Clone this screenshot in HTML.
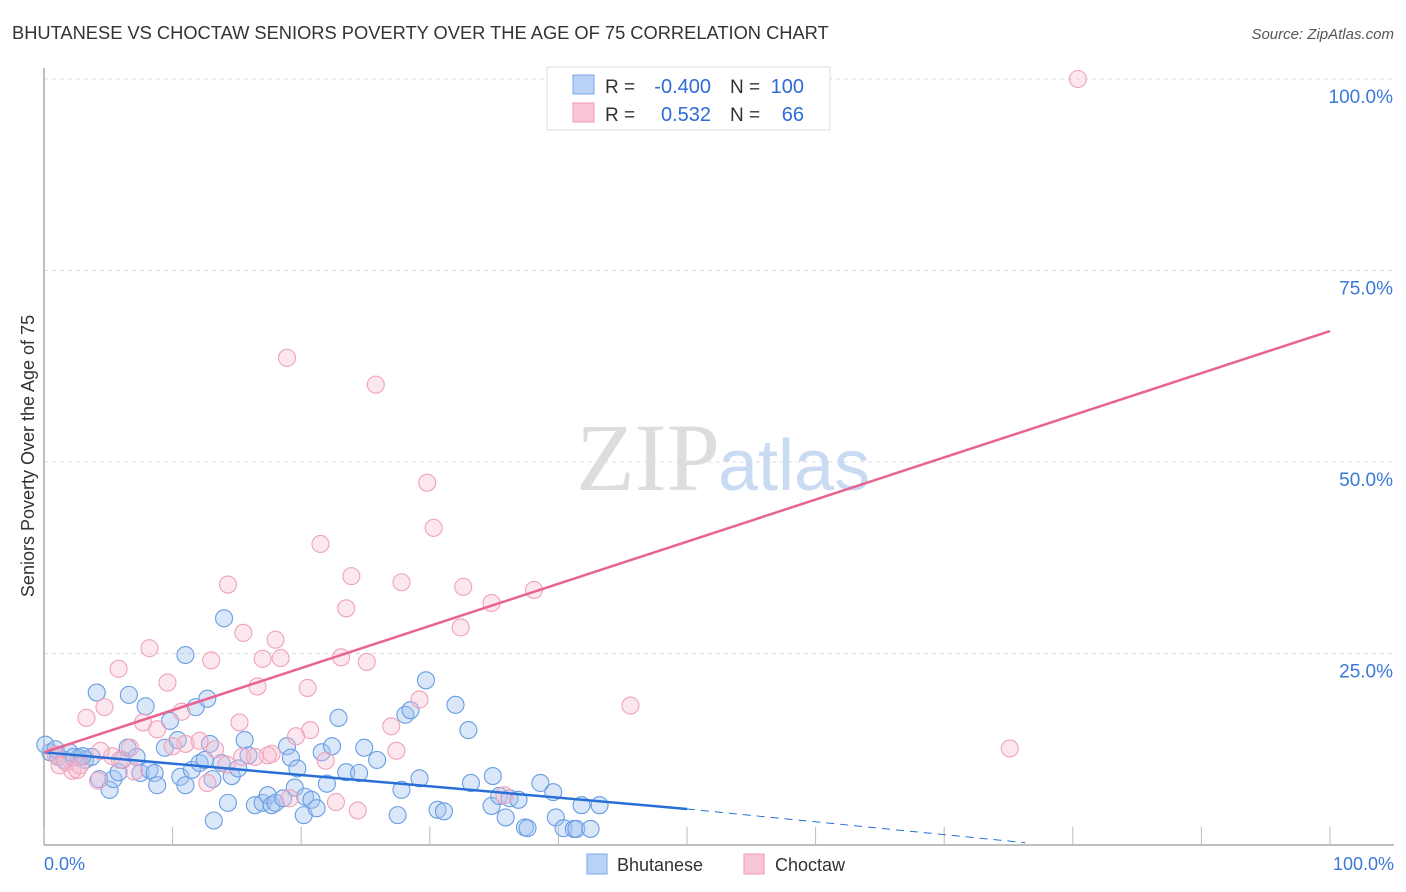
<!DOCTYPE html>
<html><head><meta charset="utf-8"><style>
body{margin:0;background:#fff;font-family:"Liberation Sans",sans-serif;}
svg{display:block}
</style></head><body>
<svg id="chart" width="1406" height="892" xmlns="http://www.w3.org/2000/svg">
<text x="12" y="39" font-size="18.3" fill="#333">BHUTANESE VS CHOCTAW SENIORS POVERTY OVER THE AGE OF 75 CORRELATION CHART</text>
<text x="1394" y="39" font-size="15" fill="#555" text-anchor="end" font-style="italic">Source: ZipAtlas.com</text>
<text x="720" y="490" font-size="96" fill="#ddd" text-anchor="end" font-family="Liberation Serif,serif">ZIP</text>
<text x="718" y="490" font-size="72" fill="#c9daf3">atlas</text>
<g id="grid"></g>
<g id="axes"></g>
<g id="pts"></g>
<g id="lines"></g>
<text transform="translate(34,456) rotate(-90)" font-size="18" fill="#333" text-anchor="middle">Seniors Poverty Over the Age of 75</text>
<g>
<rect x="547" y="67" width="283" height="63" fill="#fff" stroke="#ddd"/>
<rect x="573" y="75" width="21" height="19" fill="#b9d2f5" stroke="#7aa6e8"/>
<rect x="573" y="103" width="21" height="19" fill="#f9c6d6" stroke="#ef9ab5"/>
<text x="605" y="93" font-size="19" fill="#333">R =</text>
<text x="711" y="93" font-size="20" fill="#2f6bd8" text-anchor="end">-0.400</text>
<text x="730" y="93" font-size="19" fill="#333">N =</text>
<text x="804" y="93" font-size="20" fill="#2f6bd8" text-anchor="end">100</text>
<text x="605" y="121" font-size="19" fill="#333">R =</text>
<text x="711" y="121" font-size="20" fill="#2f6bd8" text-anchor="end">0.532</text>
<text x="730" y="121" font-size="19" fill="#333">N =</text>
<text x="804" y="121" font-size="20" fill="#2f6bd8" text-anchor="end">66</text>
</g>
<g>
<rect x="587" y="854" width="20" height="20" fill="#b9d2f5" stroke="#7aa6e8"/>
<text x="617" y="871" font-size="18" fill="#333">Bhutanese</text>
<rect x="744" y="854" width="20" height="20" fill="#f9c6d6" stroke="#ef9ab5"/>
<text x="775" y="871" font-size="18" fill="#333">Choctaw</text>
</g>
</svg>
<script>
const X0=44,X1=1330,Y0=845,Y1=79;
const yTicks=[25,50,75,100];
const yTickLabels=["25.0%","50.0%","75.0%","100.0%"];
const xTickPcts=[0,10,20,30,40,50,60,70,80,90,100];
const blueX=[0.5,1.1,1.6,2.0,2.7,3.2,3.7,4.1,4.3,5.1,5.4,5.8,6.1,6.5,6.6,7.2,7.5,7.9,8.2,8.6,8.8,9.4,9.8,10.4,10.6,11.0,11.0,11.5,11.8,12.1,12.5,12.7,12.9,13.1,13.2,13.8,14.0,14.3,14.6,15.1,15.6,15.9,16.4,17.0,17.4,17.7,18.0,18.6,18.9,19.2,19.5,19.7,20.2,20.3,20.8,21.2,21.6,22.0,22.4,22.9,23.5,24.5,24.9,25.9,27.5,27.8,28.1,28.5,29.2,29.7,30.6,31.1,32.0,33.0,33.2,34.8,34.9,35.4,35.9,36.2,36.9,37.4,37.6,38.6,39.6,39.8,40.4,41.2,41.4,41.8,42.5,43.2,0.1,0.9,2.3,3.0];
const blueY=[12.1,11.5,11.1,12.1,11.4,11.1,11.5,19.9,8.6,7.2,8.6,9.5,11.1,12.7,19.6,11.5,9.4,18.1,9.8,9.4,7.8,12.7,16.2,13.7,8.9,7.8,24.8,9.8,18.0,10.7,11.1,19.1,13.2,8.6,3.2,10.7,29.6,5.5,9.0,10.0,13.7,11.7,5.2,5.5,6.5,5.2,5.5,6.1,12.9,11.4,7.5,10.0,3.9,6.3,5.9,4.8,12.1,8.0,12.9,16.6,9.5,9.4,12.7,11.1,3.9,7.2,17.0,17.6,8.7,21.5,4.6,4.4,18.3,15.0,8.1,5.1,9.0,6.4,3.6,6.1,5.9,2.3,2.2,8.1,6.9,3.6,2.2,2.1,2.1,5.2,2.1,5.2,13.1,12.5,11.5,11.6];
const pinkX=[80.4,18.9,25.8,29.8,30.3,21.5,23.9,27.8,32.6,34.8,38.1,14.3,23.5,32.4,18.0,15.5,8.2,13.0,5.8,18.4,17.0,23.1,25.1,9.6,16.6,20.5,29.2,45.6,4.7,3.3,10.7,15.2,7.7,8.8,27.0,20.7,75.1,19.6,12.1,13.3,11.0,6.7,10.0,5.3,21.9,27.4,17.7,17.4,1.7,2.2,2.6,2.8,4.2,4.4,12.7,15.4,35.8,22.7,24.4,14.2,16.4,19.1,0.9,1.2,5.9,7.0];
const pinkY=[100.0,63.6,60.1,47.3,41.4,39.3,35.1,34.3,33.7,31.6,33.3,34.0,30.9,28.4,26.8,27.7,25.7,24.1,23.0,24.4,24.3,24.5,23.9,21.2,20.7,20.5,19.0,18.2,18.0,16.6,17.4,16.0,16.0,15.1,15.5,15.0,12.6,14.2,13.6,12.5,13.2,12.7,12.9,11.6,11.0,12.3,11.9,11.7,10.8,9.7,9.8,10.4,8.4,12.3,8.1,11.5,6.5,5.6,4.5,10.5,11.5,6.1,11.8,10.4,11.1,9.6];
const blueTrend=[[0,12.1],[50,4.7]];
const blueDash=[[50,4.7],[76.3,0.3]];
const pinkTrend=[[0,12.1],[100,67.1]];
const sx=v=>X0+(X1-X0)*v/100, sy=v=>Y0-(Y0-Y1)*v/100;
const NS="http://www.w3.org/2000/svg";
function mk(tag,attrs,parent){const e=document.createElementNS(NS,tag);for(const k in attrs)e.setAttribute(k,attrs[k]);parent.appendChild(e);return e;}
const grid=document.getElementById('grid'),axes=document.getElementById('axes'),pts=document.getElementById('pts'),lines=document.getElementById('lines');
yTicks.forEach((t,i)=>{
 const l=mk('line',{x1:X0,x2:1394,y1:sy(t),y2:sy(t),stroke:'#ddd','stroke-dasharray':'4,4'},grid);
 
 
 const tx=mk('text',{x:1393,y:sy(t)+24,'font-size':19,fill:'#3b78d8','text-anchor':'end'},axes);
 tx.textContent=yTickLabels[i];
 
 
});
const yax=mk('line',{x1:X0,x2:X0,y1:68,y2:Y0,stroke:'#aaa','stroke-width':1.5},axes);


const xax=mk('line',{x1:X0,x2:1394,y1:Y0,y2:Y0,stroke:'#aaa','stroke-width':1.5},axes);


xTickPcts.forEach(p=>{
 const t=mk('line',{x1:sx(p),x2:sx(p),y1:Y0-18,y2:Y0,stroke:'#bbb'},axes);
 
 
});
[[0,'0.0%','start',44],[100,'100.0%','end',1394]].forEach(a=>{
 const t=mk('text',{x:a[3],y:870,'font-size':18,fill:'#3b78d8','text-anchor':a[2]},axes);
 t.textContent=a[1];
 
 
});
blueX.forEach((v,i)=>{
 const c=mk('circle',{cx:sx(v),cy:sy(blueY[i]),r:8.5,fill:'rgba(160,196,240,0.4)',stroke:'#6a9de3','stroke-width':1.1},pts);
 
 
});
pinkX.forEach((v,i)=>{
 const c=mk('circle',{cx:sx(v),cy:sy(pinkY[i]),r:8.5,fill:'rgba(247,185,205,0.35)',stroke:'#f0a2bb','stroke-width':1.1},pts);
 
 
});
const bt=mk('line',{x1:sx(blueTrend[0][0]),y1:sy(blueTrend[0][1]),x2:sx(blueTrend[1][0]),y2:sy(blueTrend[1][1]),stroke:'#2a6fd6','stroke-width':2.5},lines);


const bd=mk('line',{x1:sx(blueDash[0][0]),y1:sy(blueDash[0][1]),x2:sx(blueDash[1][0]),y2:sy(blueDash[1][1]),stroke:'#2a6fd6','stroke-width':1,'stroke-dasharray':'8,6'},lines);


const pt=mk('line',{x1:sx(pinkTrend[0][0]),y1:sy(pinkTrend[0][1]),x2:sx(pinkTrend[1][0]),y2:sy(pinkTrend[1][1]),stroke:'#e8638f','stroke-width':2.5},lines);


</script>
</body></html>
